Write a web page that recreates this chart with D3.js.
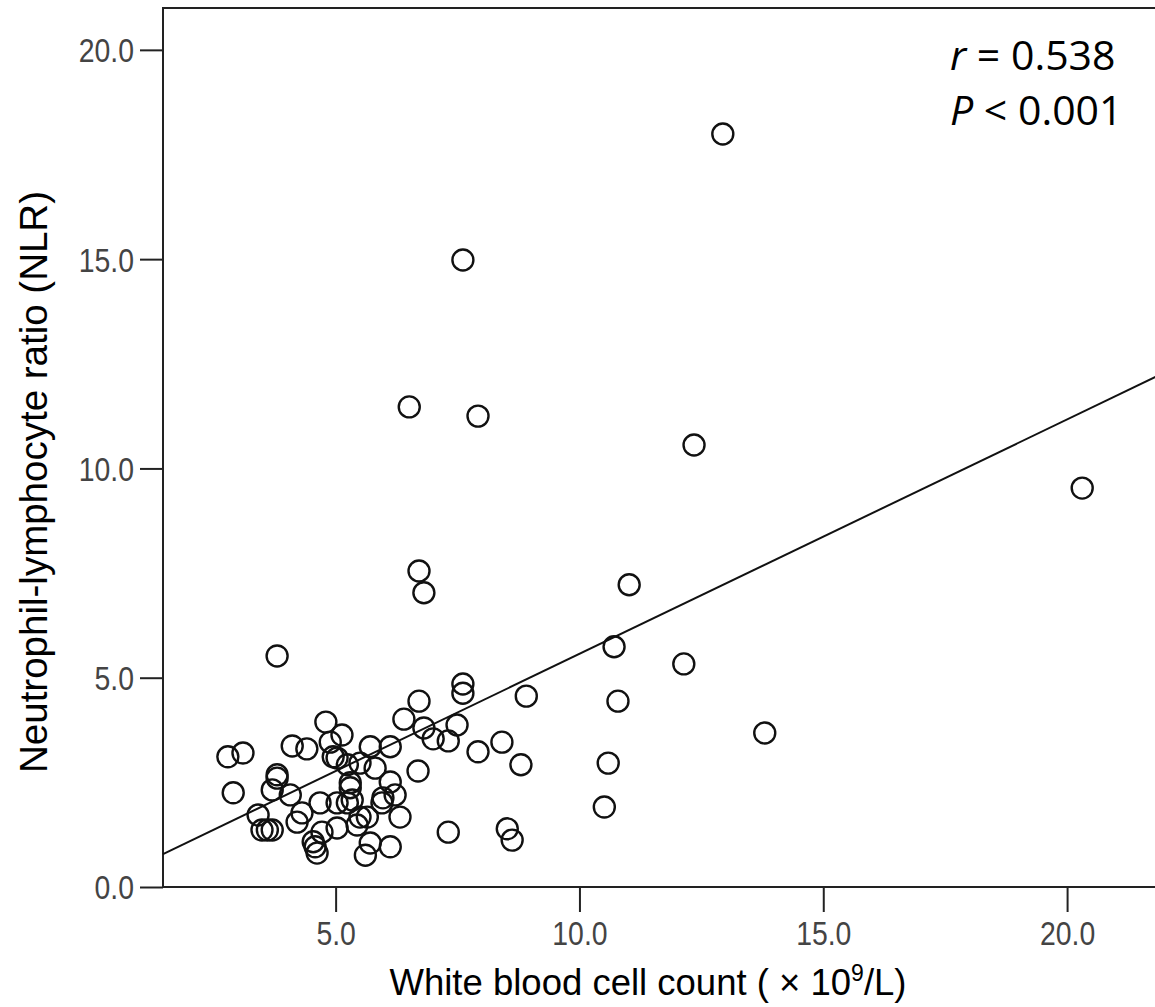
<!DOCTYPE html>
<html>
<head>
<meta charset="utf-8">
<script src="https://cdnjs.cloudflare.com/ajax/libs/d3/7.8.5/d3.min.js"></script>
<style>
  body { margin:0; background:#fff; }
  svg { display:block; overflow:hidden; }
</style>
</head>
<body>
<div id="chart"></div>
<script>
// white blood cell count (x10^9/L)
var wbc = [12.94, 7.61, 6.51, 7.92, 12.35, 20.31, 6.71, 6.81, 11.02, 10.71,
  3.80, 12.14, 7.61, 7.61, 8.91, 10.79, 6.71, 13.80, 10.59, 10.51,
  8.80, 8.41, 7.92, 7.31, 8.52, 8.62, 7.49, 7.00, 7.31, 6.81,
  6.40, 6.69,
  4.80, 5.13, 4.11, 4.41, 2.79, 3.10, 4.89, 5.71, 6.12, 5.03,
  5.24, 5.50, 5.81, 3.80, 3.80, 3.70, 4.07, 2.90, 5.30, 5.30,
  6.12, 6.22, 5.97, 5.95, 4.68, 5.03, 5.24, 5.34, 4.31, 3.41,
  4.21, 5.65, 6.32, 5.44, 5.03, 3.49, 3.60, 3.70, 4.72, 4.54,
  4.58, 4.62, 5.71, 5.61, 6.12, 5.50, 4.95];

// neutrophil-lymphocyte ratio
var nlr = [17.99, 14.98, 11.47, 11.25, 10.56, 9.53, 7.55, 7.03, 7.22, 5.74,
  5.52, 5.33, 4.85, 4.63, 4.56, 4.44, 4.44, 3.68, 2.96, 1.91,
  2.92, 3.46, 3.23, 1.31, 1.39, 1.12, 3.87, 3.54, 3.49, 3.80,
  4.01, 2.77,
  3.94, 3.63, 3.37, 3.30, 3.11, 3.20, 3.46, 3.35, 3.35, 3.08,
  2.92, 2.96, 2.84, 2.68, 2.60, 2.32, 2.20, 2.25, 2.49, 2.37,
  2.51, 2.20, 2.13, 2.01, 2.01, 2.01, 2.01, 2.08, 1.77, 1.72,
  1.55, 1.67, 1.67, 1.48, 1.41, 1.36, 1.36, 1.36, 1.31, 1.08,
  0.96, 0.81, 1.05, 0.76, 0.96, 1.67, 3.11];

var xTicks = [5, 10, 15, 20];
var yTicks = [0, 5, 10, 15, 20];

// fit line: NLR = a + b * WBC
var fitA = -0.03;
var fitB = 0.56;

var statLines = [
  {italic:"r", rest:" = 0.538"},
  {italic:"P", rest:" < 0.001"}
];

var W = 1155, H = 1007;
var margin = {top:8, right:-34, bottom:120, left:163};

var svg = d3.select("#chart").append("svg")
  .attr("width", W)
  .attr("height", H);

var scaleX = d3.scaleLinear()
  .domain([1.46, 22.5])
  .range([margin.left, W - margin.right]);

var scaleY = d3.scaleLinear()
  .domain([0, 21])
  .range([H - margin.bottom, margin.top]);

var data = wbc.map(function(d, i){
  return {x:d, y:nlr[i]};
});

// frame
svg.append("rect")
  .attr("x", scaleX.range()[0])
  .attr("y", scaleY.range()[1])
  .attr("width", scaleX.range()[1] - scaleX.range()[0])
  .attr("height", scaleY.range()[0] - scaleY.range()[1])
  .attr("fill", "none")
  .attr("stroke", "#222")
  .attr("stroke-width", 2);

var xAxis = d3.axisBottom(scaleX)
  .tickValues(xTicks)
  .tickFormat(d3.format(".1f"))
  .tickSize(25)
  .tickSizeOuter(0)
  .tickPadding(10);

var yAxis = d3.axisLeft(scaleY)
  .tickValues(yTicks)
  .tickFormat(d3.format(".1f"))
  .tickSize(23)
  .tickSizeOuter(0)
  .tickPadding(6);

var gx = svg.append("g")
  .attr("transform", "translate(0," + scaleY(0) + ")")
  .call(xAxis);

var gy = svg.append("g")
  .attr("transform", "translate(" + scaleX.range()[0] + ",0)")
  .call(yAxis);

[gx, gy].forEach(function(g){
  g.select(".domain").remove();
  g.selectAll(".tick line").attr("stroke", "#222").attr("stroke-width", 2);
  g.selectAll(".tick text")
    .attr("fill", "#444")
    .style("font-family", "'Liberation Sans', Arial, sans-serif")
    .style("font-size", "33px")
    .each(function(){
      // squeeze the labels a bit, they are narrow in the original
      var len = this.getComputedTextLength();
      d3.select(this)
        .attr("textLength", len * 0.86)
        .attr("lengthAdjust", "spacingAndGlyphs");
    });
});
gy.selectAll(".tick text").attr("dy", "0.36em");
gx.selectAll(".tick text").attr("dy", "0.71em");

// fit line
var line = d3.line()
  .x(function(d){ return scaleX(d); })
  .y(function(d){ return scaleY(fitA + fitB * d); });

svg.append("path")
  .attr("d", line(scaleX.domain()))
  .attr("fill", "none")
  .attr("stroke", "#111")
  .attr("stroke-width", 2);

// points
svg.selectAll(".pt")
  .data(data)
  .enter().append("circle")
  .attr("class", "pt")
  .attr("cx", function(d){ return scaleX(d.x); })
  .attr("cy", function(d){ return scaleY(d.y); })
  .attr("r", 10.5)
  .attr("fill", "none")
  .attr("stroke", "#111")
  .attr("stroke-width", 2.4);

// axis titles
svg.append("text")
  .attr("x", 648)
  .attr("y", 995)
  .attr("text-anchor", "middle")
  .style("font-family", "'Liberation Sans', Arial, sans-serif")
  .style("font-size", "36.5px")
  .call(function(t){
    t.append("tspan").text("White blood cell count ( \u00d7 10");
    t.append("tspan").attr("dy", -14).style("font-size", "23px").text("9");
    t.append("tspan").attr("dy", 14).text("/L)");
  });

svg.append("text")
  .attr("transform", "translate(47,482) rotate(-90)")
  .attr("text-anchor", "middle")
  .style("font-family", "'Liberation Sans', Arial, sans-serif")
  .style("font-size", "38.5px")
  .text("Neutrophil-lymphocyte ratio (NLR)");

// r and P
var stat = svg.selectAll(".stat")
  .data(statLines)
  .enter().append("text")
  .attr("class", "stat")
  .attr("x", 950)
  .attr("y", function(d, i){ return 70 + i * 55; })
  .style("font-family", "'Open Sans', 'Noto Sans', sans-serif")
  .style("font-size", "41px");

stat.append("tspan").style("font-style", "italic").text(function(d){ return d.italic; });
stat.append("tspan").text(function(d){ return d.rest; });
</script>
</body>
</html>
